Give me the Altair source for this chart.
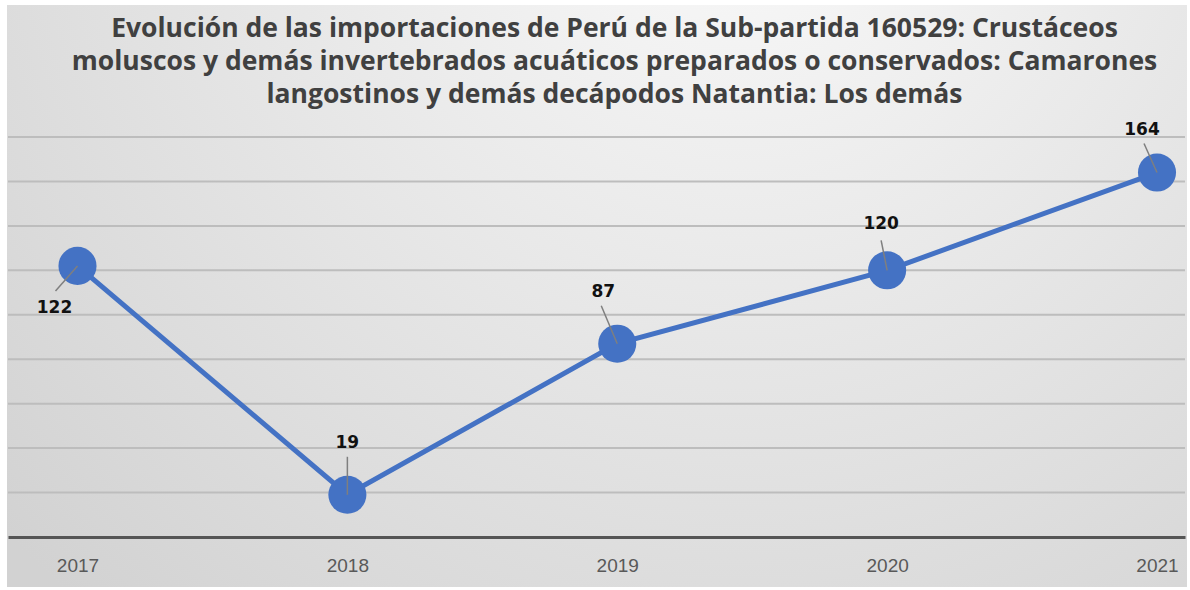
import altair as alt
import pandas as pd

years = [2017, 2018, 2019, 2020, 2021]
values = [122, 19, 87, 120, 164]
grid_values = [20, 40, 60, 80, 100, 120, 140, 160, 180]
title_lines = [
    "Evolución de las importaciones de Perú de la Sub-partida 160529:  Crustáceos",
    "moluscos y demás invertebrados acuáticos preparados o conservados: Camarones",
    "langostinos y demás decápodos Natantia: Los demás",
]
# pixel offsets for leader lines and labels (layout, not data)
leader_offsets = [(-22, 25), (0, -38), (-16, -38), (-6, -30), (-13, -29)]
label_offsets = [(-23, 42), (0, -52), (-14, -52), (-6, -46), (-15, -43)]

df = pd.DataFrame({"year": years, "value": values})
grid_df = pd.DataFrame({"g": grid_values})

W, H = 1177, 400
xscale = alt.Scale(domain=[2016.7425, 2021.1037], nice=False, zero=False)
yscale = alt.Scale(domain=[0, 180], nice=False)

bg = alt.Chart(alt.Data(values=[{"a": 1}])).mark_rect(
    color=alt.RadialGradient(
        gradient="radial",
        x1=0.62, y1=0.12, r1=0.0,
        x2=0.62, y2=0.12, r2=0.85,
        stops=[alt.GradientStop(color="#fbfbfb", offset=0),
               alt.GradientStop(color="#d2d2d2", offset=1)],
    )
).encode(
    x=alt.value(-1), x2=alt.value(1179), y=alt.value(-132), y2=alt.value(450)
)

grid = alt.Chart(grid_df).mark_rule(color="#bdbdbd", strokeWidth=2).encode(
    y=alt.Y("g:Q", scale=yscale, axis=None)
)

base = alt.Chart(df).encode(
    x=alt.X("year:Q", scale=xscale,
            axis=alt.Axis(values=years, format="d", title=None, grid=False,
                          ticks=False, domainColor="#555555", domainWidth=3,
                          labelColor="#595959", labelFontSize=19,
                          labelFont="Liberation Sans", labelPadding=19,
                          zindex=1)),
    y=alt.Y("value:Q", scale=yscale, axis=None),
)

line = base.mark_line(color="#4472C4", strokeWidth=5)
points = base.mark_circle(color="#4472C4", size=1450, opacity=1)

layers = [bg, grid, line, points]
for i, (yr, v) in enumerate(zip(years, values)):
    sub = alt.Chart(pd.DataFrame({"year": [yr], "value": [v]}))
    lx, ly = leader_offsets[i]
    rule = sub.mark_rule(color="#7f7f7f", strokeWidth=1.5,
                         x2Offset=lx, y2Offset=ly).encode(
        x=alt.X("year:Q", scale=xscale), y=alt.Y("value:Q", scale=yscale),
        x2="year:Q", y2="value:Q")
    tx, ty = label_offsets[i]
    txt = sub.mark_text(font="DejaVu Sans", fontWeight="bold", fontSize=17,
                        color="#111111", dx=tx, dy=ty,
                        align="center", baseline="middle").encode(
        x=alt.X("year:Q", scale=xscale), y=alt.Y("value:Q", scale=yscale),
        text=alt.Text("value:Q"))
    layers += [rule, txt]

chart = alt.layer(*layers).properties(
    width=W, height=H,
    title=alt.TitleParams(text=title_lines, fontSize=26.5, font="Open Sans",
                          fontWeight="bold", color="#404040", lineHeight=33,
                          anchor="middle", frame="group", offset=-103, dx=18),
    autosize=alt.AutoSizeParams(type="none"),
    padding={"left": 8, "top": 137, "right": 5, "bottom": 53},
    background="white",
).configure_view(stroke=None)

chart.save("out.html", embed_options={"renderer": "svg", "actions": False})
